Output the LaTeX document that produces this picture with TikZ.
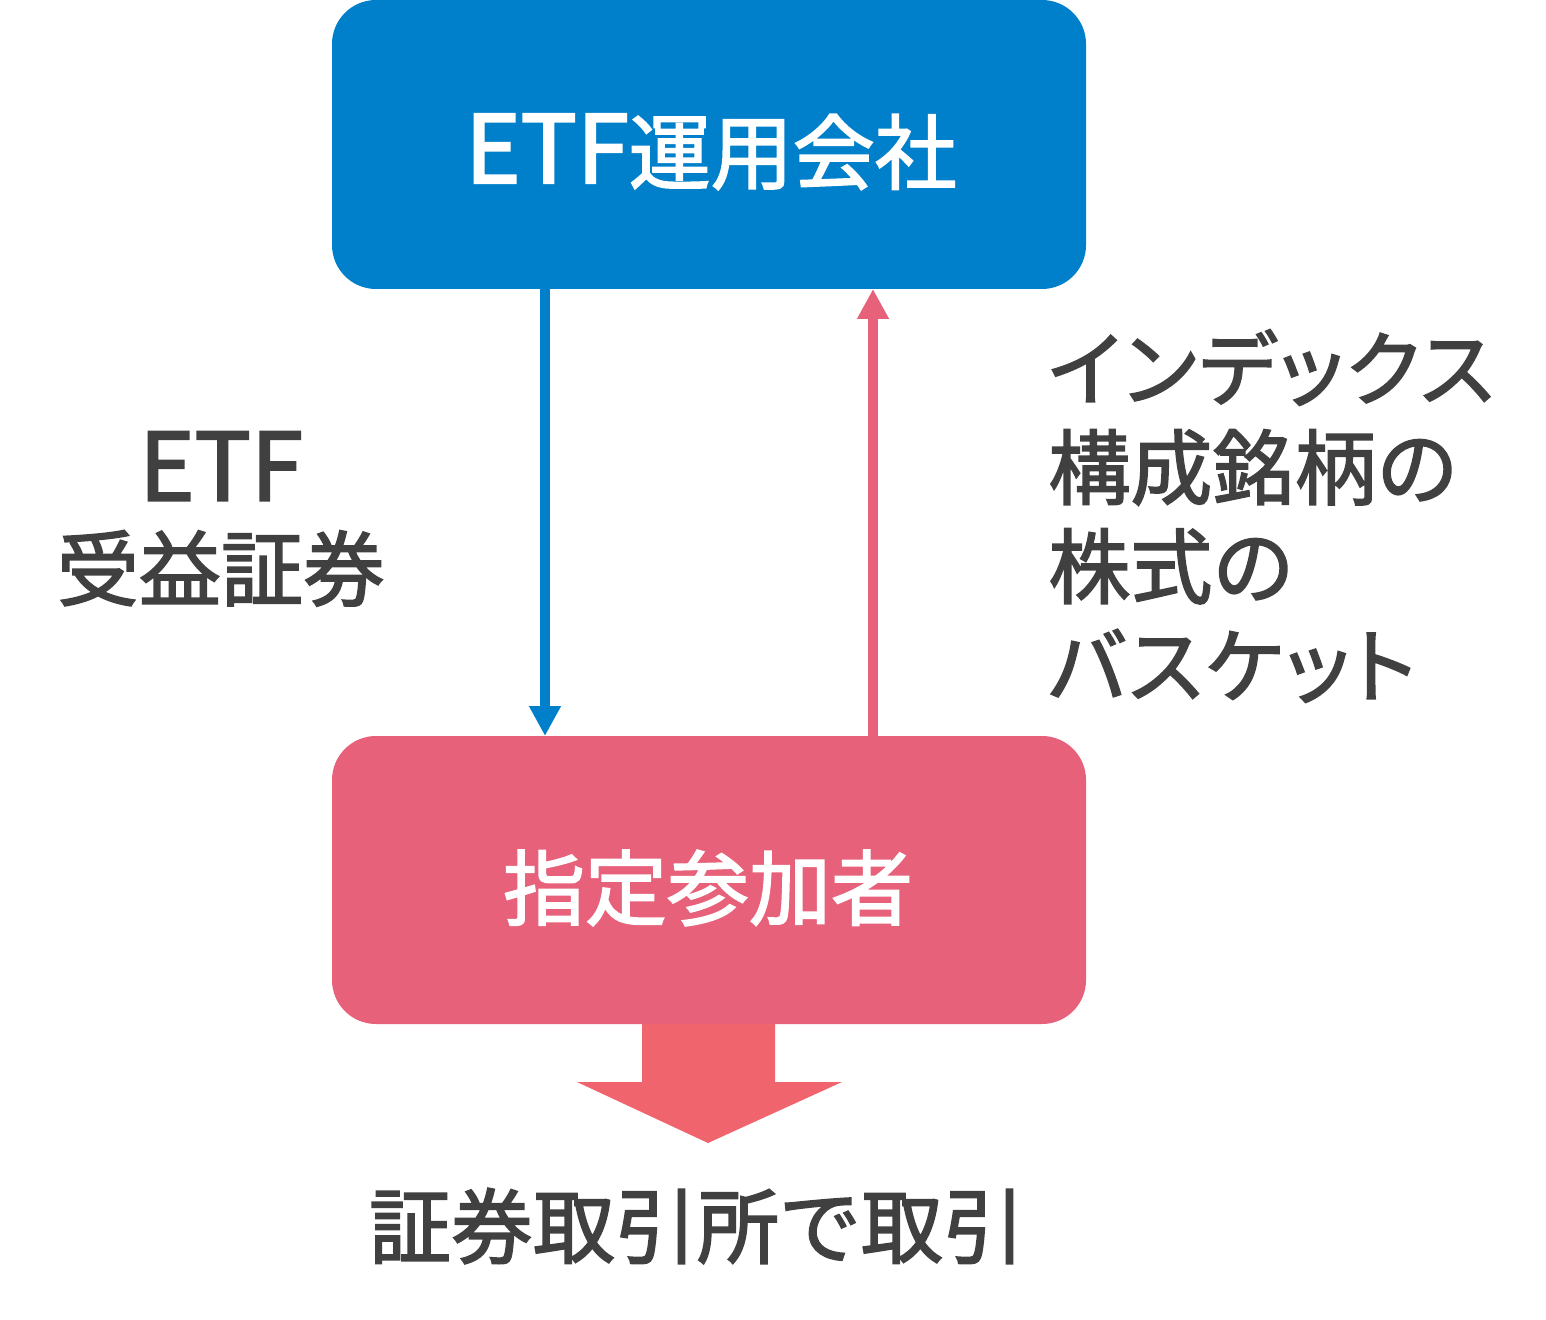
\documentclass[tikz,border=0pt]{standalone}
\usepackage{fontspec}
\newfontfamily\jp{Noto Sans CJK JP}[FakeBold=2]
\newfontfamily\kana{Noto Sans CJK JP}[FakeBold=2,RawFeature=+palt,LetterSpace=3.5]
\newfontfamily\lat{Noto Sans CJK JP}[FakeBold=2.4]
\usetikzlibrary{arrows.meta}
\definecolor{etfblue}{HTML}{0080CB}
\definecolor{appink}{HTML}{E8617A}
\definecolor{bigred}{HTML}{F0646E}
\definecolor{txtgray}{HTML}{404040}
\newcommand{\etfword}{{\lat\fontsize{47}{49.5}\selectfont ETF}}
\newcommand{\kanaline}[1]{{\kana\fontsize{41}{49.5}\selectfont #1}}
\tikzset{
  box/.style={rounded corners=22pt, inner sep=0pt},
  lbl/.style={font=\jp\fontsize{41}{49.5}\selectfont, inner sep=0pt},
  conn/.style={line width=5pt, -{Triangle[width=15pt,length=15pt]}},
}
\begin{document}
\begin{tikzpicture}[x=0.5pt,y=-0.5pt]
\useasboundingbox (0,0) rectangle (1546,1320);
% boxes
\fill[etfblue, box] (332,0) rectangle (1086,289);
\fill[appink, box] (332,736) rectangle (1086,1024);
\node[lbl, text=white] (etf) at (711,152) {\etfword 運用会社};
\node[lbl, text=white] (ap) at (708,888) {指定参加者};
\coordinate (etfB1) at (545,289);
\coordinate (apT1) at (545,736);
\coordinate (apT2) at (873,736);
\coordinate (etfB2) at (873,289);
\draw[conn, etfblue] (etfB1) -- (apT1);
\draw[conn, appink] (apT2) -- (etfB2);
% big arrow
\fill[bigred] (642,1024) -- (775,1024) -- (775,1082) -- (842,1082) -- (708,1143) -- (577,1082) -- (642,1082) -- cycle;
\node[lbl, text=txtgray] (ex) at (697,1226) {証券取引所で取引};
\node[lbl, text=txtgray, align=center] (cert) at (221,519) {\etfword\\受益証券};
\node[lbl, text=txtgray, align=left, anchor=west] (basket) at (1048,516) {\kanaline{インデックス}\\構成銘柄の\\株式の\\\kanaline{バスケット}};
\end{tikzpicture}
\end{document}
